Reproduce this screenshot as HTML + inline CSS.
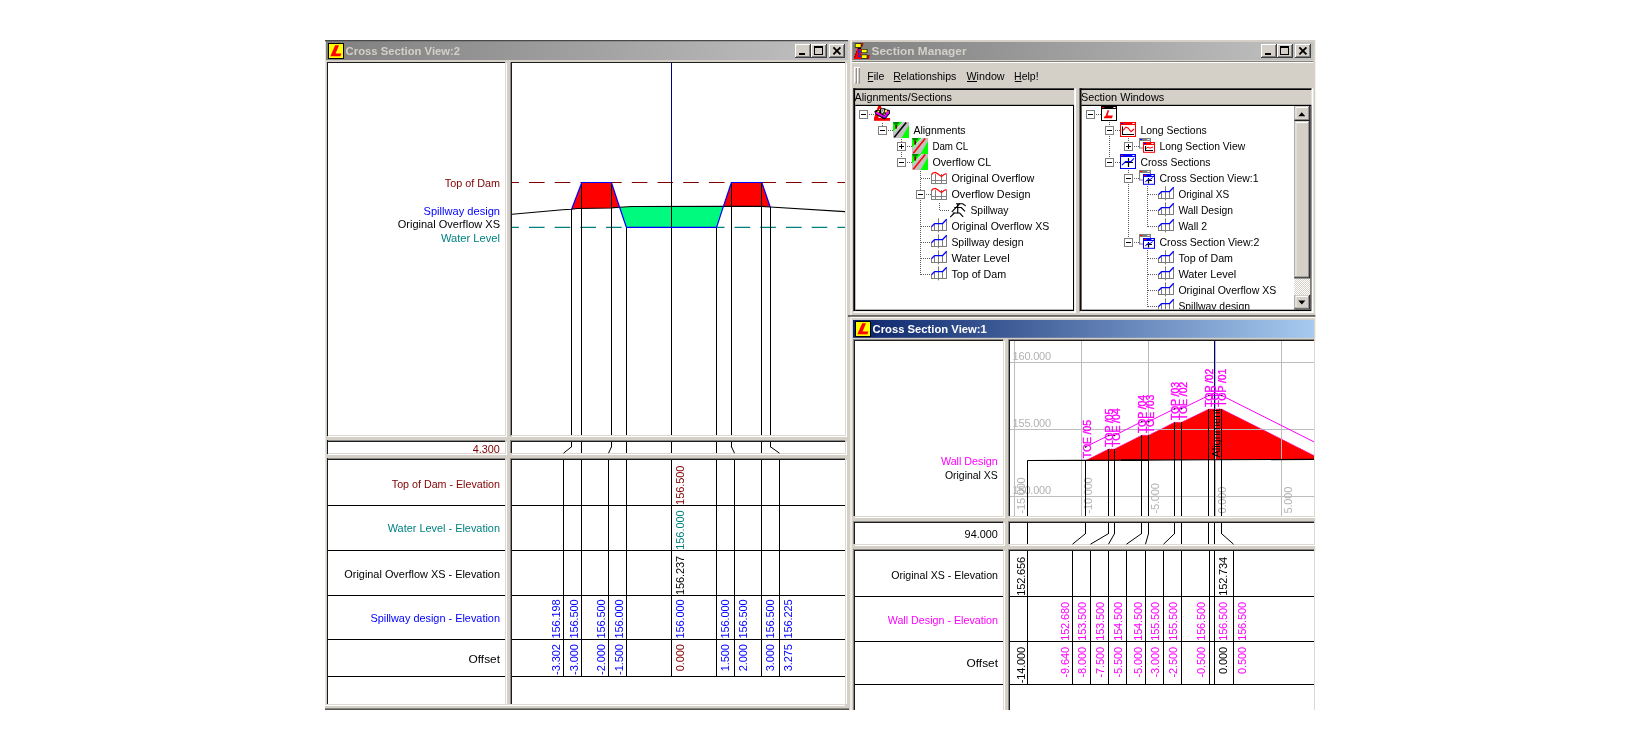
<!DOCTYPE html>
<html><head><meta charset="utf-8"><title>Section Manager</title>
<style>
html,body{margin:0;padding:0;background:#fff;}
body{width:1640px;height:750px;overflow:hidden;font-family:"Liberation Sans",sans-serif;}
svg{display:block;}
svg text{font-family:"Liberation Sans",sans-serif;white-space:pre;}
</style></head>
<body>
<svg width="1640" height="750" viewBox="0 0 1640 750">
<defs>
<linearGradient id="gInact" x1="0" x2="1" y1="0" y2="0"><stop offset="0" stop-color="#808080"/><stop offset="1" stop-color="#c2c2c2"/></linearGradient>
<linearGradient id="gAct" x1="0" x2="1" y1="0" y2="0"><stop offset="0" stop-color="#0a246a"/><stop offset="1" stop-color="#a6caf0"/></linearGradient>
<pattern id="dither" width="2" height="2" patternUnits="userSpaceOnUse"><rect width="2" height="2" fill="#d4d0c8"/><rect width="1" height="1" fill="#fff"/><rect x="1" y="1" width="1" height="1" fill="#fff"/></pattern>
<filter id="soft" x="0" y="0" width="1640" height="750" filterUnits="userSpaceOnUse"><feGaussianBlur stdDeviation="0.3"/></filter>
</defs>
<g filter="url(#soft)">
<rect x="0" y="0" width="1640" height="750" fill="#fff"/>
<rect x="325.00" y="40.00" width="525.00" height="670.00" fill="#d4d0c8" />
<rect x="326.00" y="41.00" width="522.00" height="19.00" fill="url(#gInact)" />
<rect x="325.00" y="40.00" width="523.00" height="1.25" fill="#4a4a4a" />
<rect x="327.00" y="62.00" width="178.00" height="373.00" fill="#1c1c1c" />
<rect x="328.00" y="63.00" width="179.00" height="374.00" fill="#fff" />
<rect x="328.00" y="63.00" width="178.00" height="373.00" fill="#dcd9d2" />
<rect x="328.00" y="63.00" width="177.00" height="372.00" fill="#fff" />
<rect x="511.00" y="62.00" width="334.00" height="373.00" fill="#1c1c1c" />
<rect x="512.00" y="63.00" width="335.00" height="374.00" fill="#fff" />
<rect x="512.00" y="63.00" width="334.00" height="373.00" fill="#dcd9d2" />
<rect x="512.00" y="63.00" width="333.00" height="372.00" fill="#fff" />
<rect x="510.00" y="62.00" width="1.00" height="374.00" fill="#8a8884" />
<rect x="326.00" y="440.00" width="179.00" height="13.00" fill="#8a8884" />
<rect x="327.00" y="441.00" width="178.00" height="12.00" fill="#1c1c1c" />
<rect x="328.00" y="442.00" width="179.00" height="13.00" fill="#fff" />
<rect x="328.00" y="442.00" width="178.00" height="12.00" fill="#dcd9d2" />
<rect x="328.00" y="442.00" width="177.00" height="11.00" fill="#fff" />
<rect x="326.00" y="458.00" width="179.00" height="246.00" fill="#8a8884" />
<rect x="327.00" y="459.00" width="178.00" height="245.00" fill="#1c1c1c" />
<rect x="328.00" y="460.00" width="179.00" height="246.00" fill="#fff" />
<rect x="328.00" y="460.00" width="178.00" height="245.00" fill="#dcd9d2" />
<rect x="328.00" y="460.00" width="177.00" height="244.00" fill="#fff" />
<rect x="510.00" y="440.00" width="335.00" height="13.00" fill="#8a8884" />
<rect x="511.00" y="441.00" width="334.00" height="12.00" fill="#1c1c1c" />
<rect x="512.00" y="442.00" width="335.00" height="13.00" fill="#fff" />
<rect x="512.00" y="442.00" width="334.00" height="12.00" fill="#dcd9d2" />
<rect x="512.00" y="442.00" width="333.00" height="11.00" fill="#fff" />
<rect x="510.00" y="458.00" width="335.00" height="246.00" fill="#8a8884" />
<rect x="511.00" y="459.00" width="334.00" height="245.00" fill="#1c1c1c" />
<rect x="512.00" y="460.00" width="335.00" height="246.00" fill="#fff" />
<rect x="512.00" y="460.00" width="334.00" height="245.00" fill="#dcd9d2" />
<rect x="512.00" y="460.00" width="333.00" height="244.00" fill="#fff" />
<rect x="325.00" y="60.00" width="3.00" height="650.00" fill="#d4d0c8" />
<rect x="327.00" y="62.00" width="1.00" height="642.00" fill="#1c1c1c" />
<rect x="327.00" y="436.00" width="1.00" height="4.00" fill="#d4d0c8" />
<rect x="327.00" y="454.00" width="1.00" height="4.00" fill="#d4d0c8" />
<rect x="325.00" y="42.00" width="1.00" height="668.00" fill="#e4e2dc" />
<rect x="326.00" y="60.00" width="1.00" height="650.00" fill="#d2cfc7" />
<rect x="325.00" y="704.00" width="523.00" height="1.00" fill="#dcd9d2" />
<rect x="325.00" y="705.00" width="523.00" height="1.00" fill="#fff" />
<rect x="325.00" y="706.00" width="524.00" height="2.00" fill="#d4d0c8" />
<rect x="325.00" y="708.00" width="524.00" height="1.00" fill="#8a8884" />
<rect x="325.00" y="709.00" width="524.00" height="1.00" fill="#55524e" />
<rect x="845.00" y="704.00" width="5.00" height="6.00" fill="#d4d0c8" />
<rect x="845.00" y="708.00" width="4.00" height="1.00" fill="#8a8884" />
<rect x="845.00" y="709.00" width="4.00" height="1.00" fill="#55524e" />
<rect x="328.00" y="43.00" width="16.00" height="16.00" fill="#000" />
<rect x="329.00" y="44.00" width="14.00" height="14.00" fill="#ffff00" />
<polygon points="335.20,45.20 339.00,45.20 335.60,53.40 341.40,53.40 340.40,56.20 330.40,56.20" fill="#ff0000" stroke="none" stroke-width="1.0" />
<text x="345.60" y="55.00" font-size="11" fill="#d4d0c8" text-anchor="start" font-weight="700" textLength="114.50" lengthAdjust="spacingAndGlyphs" >Cross Section View:2</text>
<rect x="795.00" y="44.00" width="16.00" height="14.00" fill="#404040" />
<rect x="795.00" y="44.00" width="15.00" height="13.00" fill="#fff" />
<rect x="796.00" y="45.00" width="14.00" height="12.00" fill="#808080" />
<rect x="796.00" y="45.00" width="13.00" height="11.00" fill="#d4d0c8" />
<rect x="799.00" y="53.00" width="6.00" height="2.00" fill="#000" />
<rect x="811.00" y="44.00" width="16.00" height="14.00" fill="#404040" />
<rect x="811.00" y="44.00" width="15.00" height="13.00" fill="#fff" />
<rect x="812.00" y="45.00" width="14.00" height="12.00" fill="#808080" />
<rect x="812.00" y="45.00" width="13.00" height="11.00" fill="#d4d0c8" />
<rect x="814.00" y="46.00" width="9.00" height="9.00" fill="#000" />
<rect x="815.00" y="48.00" width="7.00" height="6.00" fill="#d4d0c8" />
<rect x="829.00" y="44.00" width="16.00" height="14.00" fill="#404040" />
<rect x="829.00" y="44.00" width="15.00" height="13.00" fill="#fff" />
<rect x="830.00" y="45.00" width="14.00" height="12.00" fill="#808080" />
<rect x="830.00" y="45.00" width="13.00" height="11.00" fill="#d4d0c8" />
<line x1="833.40" y1="47.40" x2="840.40" y2="54.40" stroke="#000" stroke-width="1.9" />
<line x1="840.40" y1="47.40" x2="833.40" y2="54.40" stroke="#000" stroke-width="1.9" />
<text x="500.00" y="186.80" font-size="11" fill="#800000" text-anchor="end" font-weight="400" textLength="55.20" lengthAdjust="spacingAndGlyphs" >Top of Dam</text>
<text x="500.00" y="214.50" font-size="11" fill="#0000ff" text-anchor="end" font-weight="400" textLength="76.50" lengthAdjust="spacingAndGlyphs" >Spillway design</text>
<text x="500.00" y="228.30" font-size="11" fill="#000" text-anchor="end" font-weight="400" textLength="102.30" lengthAdjust="spacingAndGlyphs" >Original Overflow XS</text>
<text x="500.00" y="242.40" font-size="11" fill="#008080" text-anchor="end" font-weight="400" textLength="59.10" lengthAdjust="spacingAndGlyphs" >Water Level</text>
<text x="499.80" y="452.80" font-size="11" fill="#800000" text-anchor="end" font-weight="400" textLength="27.10" lengthAdjust="spacingAndGlyphs" >4.300</text>
<text x="500.00" y="487.60" font-size="11" fill="#800000" text-anchor="end" font-weight="400" textLength="108.20" lengthAdjust="spacingAndGlyphs" >Top of Dam - Elevation</text>
<text x="500.00" y="532.40" font-size="11" fill="#008080" text-anchor="end" font-weight="400" textLength="112.30" lengthAdjust="spacingAndGlyphs" >Water Level - Elevation</text>
<text x="500.00" y="578.20" font-size="11" fill="#000" text-anchor="end" font-weight="400" textLength="155.70" lengthAdjust="spacingAndGlyphs" >Original Overflow XS - Elevation</text>
<text x="500.00" y="622.00" font-size="11" fill="#0000ff" text-anchor="end" font-weight="400" textLength="129.60" lengthAdjust="spacingAndGlyphs" >Spillway design - Elevation</text>
<text x="500.00" y="663.00" font-size="11" fill="#000" text-anchor="end" font-weight="400" textLength="31.50" lengthAdjust="spacingAndGlyphs" >Offset</text>
<rect x="328.00" y="505.00" width="177.00" height="1.00" fill="#000" />
<rect x="512.00" y="505.00" width="333.00" height="1.00" fill="#000" />
<rect x="328.00" y="550.00" width="177.00" height="1.00" fill="#000" />
<rect x="512.00" y="550.00" width="333.00" height="1.00" fill="#000" />
<rect x="328.00" y="595.00" width="177.00" height="1.00" fill="#000" />
<rect x="512.00" y="595.00" width="333.00" height="1.00" fill="#000" />
<rect x="328.00" y="639.00" width="177.00" height="1.00" fill="#000" />
<rect x="512.00" y="639.00" width="333.00" height="1.00" fill="#000" />
<rect x="328.00" y="676.00" width="177.00" height="1.00" fill="#000" />
<rect x="512.00" y="676.00" width="333.00" height="1.00" fill="#000" />
<clipPath id="cB"><rect x="512" y="63" width="333" height="372"/></clipPath><g clip-path="url(#cB)">
<line x1="503.30" y1="182.50" x2="846.00" y2="182.50" stroke="#800000" stroke-width="1.1" stroke-dasharray="15.6 10.1"/>
<line x1="503.30" y1="227.40" x2="846.00" y2="227.40" stroke="#008080" stroke-width="1.1" stroke-dasharray="15.6 10.1"/>
<polygon points="619.60,207.20 632.20,206.50 723.40,206.40 716.60,227.40 626.40,227.40" fill="#00fa7d" stroke="none" stroke-width="1.0" />
<polygon points="571.60,209.20 581.80,182.50 611.40,182.50 619.60,207.20 613.60,207.60 611.40,208.00 577.00,208.50" fill="#ff0000" stroke="none" stroke-width="1.0" />
<polygon points="723.40,206.40 731.40,182.50 761.80,182.50 770.20,207.00 761.80,206.40" fill="#ff0000" stroke="none" stroke-width="1.0" />
<polyline points="511.00,214.40 537.40,212.00 562.60,209.70 571.60,209.20 577.00,208.50 611.40,208.00 613.60,207.60 619.60,207.20 632.20,206.50 723.40,206.40 761.80,206.40 770.20,207.00 846.00,211.70" fill="none" stroke="#000" stroke-width="1.1" />
<rect x="671.00" y="63.00" width="1.00" height="119.50" fill="#000080" />
<rect x="671.00" y="182.50" width="1.00" height="252.50" fill="#000" />
<rect x="571.00" y="209.20" width="1.00" height="225.80" fill="#000" />
<rect x="581.00" y="182.50" width="1.00" height="252.50" fill="#000" />
<rect x="611.00" y="182.50" width="1.00" height="252.50" fill="#000" />
<rect x="626.00" y="227.40" width="1.00" height="207.60" fill="#000" />
<rect x="716.00" y="227.40" width="1.00" height="207.60" fill="#000" />
<rect x="731.00" y="182.50" width="1.00" height="252.50" fill="#000" />
<rect x="761.00" y="182.50" width="1.00" height="252.50" fill="#000" />
<rect x="770.00" y="207.00" width="1.00" height="228.00" fill="#000" />
<polyline points="571.60,209.20 581.80,182.50 611.40,182.50 619.60,207.20 626.40,227.40 716.60,227.40 723.40,206.40 731.40,182.50 761.80,182.50 770.20,207.00" fill="none" stroke="#0000ff" stroke-width="1.2" stroke-linejoin="round"/>
</g>
<rect x="571.00" y="442.00" width="1.00" height="5.20" fill="#000" />
<line x1="571.50" y1="446.80" x2="563.50" y2="453.20" stroke="#000" stroke-width="1.0" />
<rect x="581.00" y="442.00" width="1.00" height="11.00" fill="#000" />
<rect x="611.00" y="442.00" width="1.00" height="5.20" fill="#000" />
<line x1="611.50" y1="446.80" x2="608.50" y2="453.20" stroke="#000" stroke-width="1.0" />
<rect x="626.00" y="442.00" width="1.00" height="11.00" fill="#000" />
<rect x="671.00" y="442.00" width="1.00" height="11.00" fill="#000" />
<rect x="716.00" y="442.00" width="1.00" height="11.00" fill="#000" />
<rect x="731.00" y="442.00" width="1.00" height="5.20" fill="#000" />
<line x1="731.50" y1="446.80" x2="734.50" y2="453.20" stroke="#000" stroke-width="1.0" />
<rect x="761.00" y="442.00" width="1.00" height="11.00" fill="#000" />
<rect x="770.00" y="442.00" width="1.00" height="5.20" fill="#000" />
<line x1="770.50" y1="446.80" x2="779.50" y2="453.20" stroke="#000" stroke-width="1.0" />
<rect x="563.00" y="460.00" width="1.00" height="217.00" fill="#000" />
<rect x="581.00" y="460.00" width="1.00" height="217.00" fill="#000" />
<rect x="608.00" y="460.00" width="1.00" height="217.00" fill="#000" />
<rect x="626.00" y="460.00" width="1.00" height="217.00" fill="#000" />
<rect x="671.00" y="460.00" width="1.00" height="217.00" fill="#000" />
<rect x="716.00" y="460.00" width="1.00" height="217.00" fill="#000" />
<rect x="734.00" y="460.00" width="1.00" height="217.00" fill="#000" />
<rect x="761.00" y="460.00" width="1.00" height="217.00" fill="#000" />
<rect x="779.00" y="460.00" width="1.00" height="217.00" fill="#000" />
<text transform="translate(683.80,465.70) rotate(-90)" font-size="11" fill="#800000" text-anchor="end" letter-spacing="-0.08">156.500</text>
<text transform="translate(683.80,510.50) rotate(-90)" font-size="11" fill="#008080" text-anchor="end" letter-spacing="-0.08">156.000</text>
<text transform="translate(683.80,555.90) rotate(-90)" font-size="11" fill="#000" text-anchor="end" letter-spacing="-0.08">156.237</text>
<text transform="translate(559.80,599.40) rotate(-90)" font-size="11" fill="#0000ff" text-anchor="end" letter-spacing="-0.08">156.198</text>
<text transform="translate(559.80,644.20) rotate(-90)" font-size="11" fill="#0000ff" text-anchor="end" letter-spacing="-0.08">-3.302</text>
<text transform="translate(577.50,599.40) rotate(-90)" font-size="11" fill="#0000ff" text-anchor="end" letter-spacing="-0.08">156.500</text>
<text transform="translate(577.50,644.20) rotate(-90)" font-size="11" fill="#0000ff" text-anchor="end" letter-spacing="-0.08">-3.000</text>
<text transform="translate(604.50,599.40) rotate(-90)" font-size="11" fill="#0000ff" text-anchor="end" letter-spacing="-0.08">156.500</text>
<text transform="translate(604.50,644.20) rotate(-90)" font-size="11" fill="#0000ff" text-anchor="end" letter-spacing="-0.08">-2.000</text>
<text transform="translate(622.50,599.40) rotate(-90)" font-size="11" fill="#0000ff" text-anchor="end" letter-spacing="-0.08">156.000</text>
<text transform="translate(622.50,644.20) rotate(-90)" font-size="11" fill="#0000ff" text-anchor="end" letter-spacing="-0.08">-1.500</text>
<text transform="translate(683.80,599.40) rotate(-90)" font-size="11" fill="#0000ff" text-anchor="end" letter-spacing="-0.08">156.000</text>
<text transform="translate(683.80,644.20) rotate(-90)" font-size="11" fill="#800000" text-anchor="end" letter-spacing="-0.08">0.000</text>
<text transform="translate(728.70,599.40) rotate(-90)" font-size="11" fill="#0000ff" text-anchor="end" letter-spacing="-0.08">156.000</text>
<text transform="translate(728.70,644.20) rotate(-90)" font-size="11" fill="#0000ff" text-anchor="end" letter-spacing="-0.08">1.500</text>
<text transform="translate(746.60,599.40) rotate(-90)" font-size="11" fill="#0000ff" text-anchor="end" letter-spacing="-0.08">156.500</text>
<text transform="translate(746.60,644.20) rotate(-90)" font-size="11" fill="#0000ff" text-anchor="end" letter-spacing="-0.08">2.000</text>
<text transform="translate(773.80,599.40) rotate(-90)" font-size="11" fill="#0000ff" text-anchor="end" letter-spacing="-0.08">156.500</text>
<text transform="translate(773.80,644.20) rotate(-90)" font-size="11" fill="#0000ff" text-anchor="end" letter-spacing="-0.08">3.000</text>
<text transform="translate(791.60,599.40) rotate(-90)" font-size="11" fill="#0000ff" text-anchor="end" letter-spacing="-0.08">156.225</text>
<text transform="translate(791.60,644.20) rotate(-90)" font-size="11" fill="#0000ff" text-anchor="end" letter-spacing="-0.08">3.275</text>
<rect x="850.00" y="40.00" width="465.30" height="277.00" fill="#d4d0c8" />
<rect x="850.00" y="40.00" width="2.00" height="277.00" fill="#eeece8" />
<rect x="848.00" y="315.20" width="467.30" height="1.60" fill="#4a4846" />
<rect x="852.30" y="42.00" width="461.00" height="18.00" fill="url(#gInact)" />
<rect x="852.30" y="61.00" width="461.00" height="1.00" fill="#85837e" />
<rect x="852.30" y="62.00" width="461.00" height="1.00" fill="#fff" />
<rect x="1261.00" y="44.00" width="16.00" height="14.00" fill="#404040" />
<rect x="1261.00" y="44.00" width="15.00" height="13.00" fill="#fff" />
<rect x="1262.00" y="45.00" width="14.00" height="12.00" fill="#808080" />
<rect x="1262.00" y="45.00" width="13.00" height="11.00" fill="#d4d0c8" />
<rect x="1265.00" y="53.00" width="6.00" height="2.00" fill="#000" />
<rect x="1277.00" y="44.00" width="16.00" height="14.00" fill="#404040" />
<rect x="1277.00" y="44.00" width="15.00" height="13.00" fill="#fff" />
<rect x="1278.00" y="45.00" width="14.00" height="12.00" fill="#808080" />
<rect x="1278.00" y="45.00" width="13.00" height="11.00" fill="#d4d0c8" />
<rect x="1280.00" y="46.00" width="9.00" height="9.00" fill="#000" />
<rect x="1281.00" y="48.00" width="7.00" height="6.00" fill="#d4d0c8" />
<rect x="1295.00" y="44.00" width="16.00" height="14.00" fill="#404040" />
<rect x="1295.00" y="44.00" width="15.00" height="13.00" fill="#fff" />
<rect x="1296.00" y="45.00" width="14.00" height="12.00" fill="#808080" />
<rect x="1296.00" y="45.00" width="13.00" height="11.00" fill="#d4d0c8" />
<line x1="1299.40" y1="47.40" x2="1306.40" y2="54.40" stroke="#000" stroke-width="1.9" />
<line x1="1306.40" y1="47.40" x2="1299.40" y2="54.40" stroke="#000" stroke-width="1.9" />
<text x="871.60" y="54.80" font-size="11" fill="#d4d0c8" text-anchor="start" font-weight="700" textLength="95.00" lengthAdjust="spacingAndGlyphs" >Section Manager</text>
<rect x="854.00" y="67.00" width="3.00" height="16.50" fill="#fff" />
<rect x="855.00" y="68.00" width="2.00" height="15.50" fill="#808080" />
<rect x="855.00" y="68.00" width="1.20" height="14.70" fill="#d4d0c8" />
<rect x="857.00" y="67.00" width="3.00" height="16.50" fill="#fff" />
<rect x="858.00" y="68.00" width="2.00" height="15.50" fill="#808080" />
<rect x="858.00" y="68.00" width="1.20" height="14.70" fill="#d4d0c8" />
<text x="867.20" y="79.80" font-size="11" fill="#000" text-anchor="start" font-weight="400" textLength="17.10" lengthAdjust="spacingAndGlyphs" >File</text>
<rect x="867.80" y="81.00" width="5.40" height="1.00" fill="#000" />
<text x="893.20" y="79.80" font-size="11" fill="#000" text-anchor="start" font-weight="400" textLength="63.10" lengthAdjust="spacingAndGlyphs" >Relationships</text>
<rect x="893.80" y="81.00" width="7.00" height="1.00" fill="#000" />
<text x="966.50" y="79.80" font-size="11" fill="#000" text-anchor="start" font-weight="400" textLength="38.10" lengthAdjust="spacingAndGlyphs" >Window</text>
<rect x="967.00" y="81.00" width="10.00" height="1.00" fill="#000" />
<text x="1014.10" y="79.80" font-size="11" fill="#000" text-anchor="start" font-weight="400" textLength="24.50" lengthAdjust="spacingAndGlyphs" >Help!</text>
<rect x="1014.80" y="81.00" width="6.80" height="1.00" fill="#000" />
<rect x="853.30" y="88.40" width="220.90" height="1.60" fill="#000" />
<rect x="853.30" y="88.40" width="220.90" height="0.50" fill="#444" />
<rect x="853.30" y="88.40" width="2.00" height="223.00" fill="#000" />
<rect x="853.30" y="88.40" width="0.40" height="223.00" fill="#444" />
<rect x="855.30" y="90.00" width="218.90" height="15.00" fill="#d4d0c8" />
<rect x="855.30" y="104.80" width="218.90" height="206.40" fill="#000" />
<rect x="855.30" y="106.00" width="217.70" height="203.70" fill="#fff" />
<rect x="1074.20" y="88.40" width="1.80" height="224.40" fill="#fff" />
<rect x="853.30" y="311.20" width="222.70" height="1.60" fill="#fff" />
<text x="854.50" y="100.80" font-size="11" fill="#000" text-anchor="start" font-weight="400" textLength="97.50" lengthAdjust="spacingAndGlyphs" >Alignments/Sections</text>
<rect x="1079.70" y="88.40" width="231.90" height="1.60" fill="#000" />
<rect x="1079.70" y="88.40" width="231.90" height="0.50" fill="#444" />
<rect x="1079.70" y="88.40" width="2.00" height="223.00" fill="#000" />
<rect x="1079.70" y="88.40" width="0.40" height="223.00" fill="#444" />
<rect x="1081.70" y="90.00" width="229.90" height="15.00" fill="#d4d0c8" />
<rect x="1081.70" y="104.80" width="229.90" height="206.40" fill="#000" />
<rect x="1081.70" y="106.00" width="228.60" height="203.70" fill="#fff" />
<rect x="1311.60" y="88.40" width="1.80" height="224.40" fill="#fff" />
<rect x="1079.70" y="311.20" width="233.70" height="1.60" fill="#fff" />
<text x="1080.90" y="100.80" font-size="11" fill="#000" text-anchor="start" font-weight="400" textLength="83.30" lengthAdjust="spacingAndGlyphs" >Section Windows</text>
<rect x="850.00" y="317.00" width="465.50" height="393.00" fill="#d4d0c8" />
<rect x="850.00" y="316.80" width="465.30" height="1.40" fill="#f8f7f4" />
<rect x="853.00" y="320.00" width="461.00" height="17.80" fill="url(#gAct)" />
<rect x="855.00" y="321.00" width="16.00" height="16.00" fill="#000" />
<rect x="856.00" y="322.00" width="14.00" height="14.00" fill="#ffff00" />
<polygon points="862.20,323.20 866.00,323.20 862.60,331.40 868.40,331.40 867.40,334.20 857.40,334.20" fill="#ff0000" stroke="none" stroke-width="1.0" />
<text x="872.60" y="332.80" font-size="11" fill="#fff" text-anchor="start" font-weight="700" textLength="114.20" lengthAdjust="spacingAndGlyphs" >Cross Section View:1</text>
<rect x="853.00" y="339.00" width="150.00" height="177.00" fill="#8a8884" />
<rect x="854.00" y="340.00" width="149.00" height="176.00" fill="#1c1c1c" />
<rect x="855.00" y="341.00" width="150.00" height="177.00" fill="#fff" />
<rect x="855.00" y="341.00" width="149.00" height="176.00" fill="#dcd9d2" />
<rect x="855.00" y="341.00" width="148.00" height="175.00" fill="#fff" />
<rect x="853.00" y="521.00" width="150.00" height="23.00" fill="#8a8884" />
<rect x="854.00" y="522.00" width="149.00" height="22.00" fill="#1c1c1c" />
<rect x="855.00" y="523.00" width="150.00" height="23.00" fill="#fff" />
<rect x="855.00" y="523.00" width="149.00" height="22.00" fill="#dcd9d2" />
<rect x="855.00" y="523.00" width="148.00" height="21.00" fill="#fff" />
<rect x="853.00" y="549.00" width="150.00" height="161.00" fill="#8a8884" />
<rect x="854.00" y="550.00" width="149.00" height="160.00" fill="#1c1c1c" />
<rect x="855.00" y="551.00" width="150.00" height="159.00" fill="#fff" />
<rect x="855.00" y="551.00" width="149.00" height="159.00" fill="#dcd9d2" />
<rect x="855.00" y="551.00" width="148.00" height="159.00" fill="#fff" />
<rect x="1008.00" y="339.00" width="306.00" height="177.00" fill="#8a8884" />
<rect x="1009.00" y="340.00" width="305.00" height="176.00" fill="#1c1c1c" />
<rect x="1010.00" y="341.00" width="306.00" height="177.00" fill="#fff" />
<rect x="1010.00" y="341.00" width="305.00" height="176.00" fill="#dcd9d2" />
<rect x="1010.00" y="341.00" width="304.00" height="175.00" fill="#fff" />
<rect x="1008.00" y="521.00" width="306.00" height="23.00" fill="#8a8884" />
<rect x="1009.00" y="522.00" width="305.00" height="22.00" fill="#1c1c1c" />
<rect x="1010.00" y="523.00" width="306.00" height="23.00" fill="#fff" />
<rect x="1010.00" y="523.00" width="305.00" height="22.00" fill="#dcd9d2" />
<rect x="1010.00" y="523.00" width="304.00" height="21.00" fill="#fff" />
<rect x="1008.00" y="549.00" width="306.00" height="161.00" fill="#8a8884" />
<rect x="1009.00" y="550.00" width="305.00" height="160.00" fill="#1c1c1c" />
<rect x="1010.00" y="551.00" width="306.00" height="159.00" fill="#fff" />
<rect x="1010.00" y="551.00" width="305.00" height="159.00" fill="#dcd9d2" />
<rect x="1010.00" y="551.00" width="304.00" height="159.00" fill="#fff" />
<rect x="850.00" y="338.00" width="3.00" height="372.00" fill="#d4d0c8" />
<rect x="850.00" y="317.00" width="2.00" height="393.00" fill="#eeece8" />
<rect x="1315.50" y="317.00" width="10.00" height="393.00" fill="#fff" />
<text x="997.80" y="464.80" font-size="11" fill="#ff00ff" text-anchor="end" font-weight="400" textLength="56.90" lengthAdjust="spacingAndGlyphs" >Wall Design</text>
<text x="997.80" y="478.70" font-size="11" fill="#000" text-anchor="end" font-weight="400" textLength="52.90" lengthAdjust="spacingAndGlyphs" >Original XS</text>
<text x="997.80" y="537.90" font-size="11" fill="#000" text-anchor="end" font-weight="400" textLength="33.20" lengthAdjust="spacingAndGlyphs" >94.000</text>
<text x="998.00" y="579.00" font-size="11" fill="#000" text-anchor="end" font-weight="400" textLength="106.80" lengthAdjust="spacingAndGlyphs" >Original XS - Elevation</text>
<text x="998.00" y="623.90" font-size="11" fill="#ff00ff" text-anchor="end" font-weight="400" textLength="110.30" lengthAdjust="spacingAndGlyphs" >Wall Design - Elevation</text>
<text x="998.00" y="666.80" font-size="11" fill="#000" text-anchor="end" font-weight="400" textLength="31.50" lengthAdjust="spacingAndGlyphs" >Offset</text>
<rect x="855.00" y="596.00" width="148.00" height="1.00" fill="#000" />
<rect x="1010.00" y="596.00" width="304.00" height="1.00" fill="#000" />
<rect x="855.00" y="641.00" width="148.00" height="1.00" fill="#000" />
<rect x="1010.00" y="641.00" width="304.00" height="1.00" fill="#000" />
<rect x="855.00" y="684.00" width="148.00" height="1.00" fill="#000" />
<rect x="1010.00" y="684.00" width="304.00" height="1.00" fill="#000" />
<clipPath id="cB3"><rect x="1010" y="341" width="304" height="175"/></clipPath><g clip-path="url(#cB3)">
<rect x="1014.00" y="340.00" width="1.00" height="176.00" fill="#bdbdbd" />
<rect x="1081.00" y="340.00" width="1.00" height="176.00" fill="#bdbdbd" />
<rect x="1148.00" y="340.00" width="1.00" height="176.00" fill="#bdbdbd" />
<rect x="1215.00" y="340.00" width="1.00" height="176.00" fill="#bdbdbd" />
<rect x="1281.00" y="340.00" width="1.00" height="176.00" fill="#bdbdbd" />
<rect x="1010.00" y="362.00" width="304.00" height="1.00" fill="#bdbdbd" />
<rect x="1010.00" y="429.00" width="304.00" height="1.00" fill="#bdbdbd" />
<rect x="1010.00" y="496.00" width="304.00" height="1.00" fill="#bdbdbd" />
<text x="1012.60" y="359.50" font-size="11" fill="#b2b2b2" text-anchor="start" font-weight="400" letter-spacing="-0.2">160.000</text>
<text x="1012.60" y="426.50" font-size="11" fill="#b2b2b2" text-anchor="start" font-weight="400" letter-spacing="-0.2">155.000</text>
<text x="1012.60" y="493.50" font-size="11" fill="#b2b2b2" text-anchor="start" font-weight="400" letter-spacing="-0.2">150.000</text>
<text transform="translate(1025.10,513.40) rotate(-90)" font-size="11" fill="#b2b2b2" text-anchor="start" letter-spacing="-0.2">-15.000</text>
<text transform="translate(1092.10,513.40) rotate(-90)" font-size="11" fill="#b2b2b2" text-anchor="start" letter-spacing="-0.2">-10.000</text>
<text transform="translate(1159.20,513.40) rotate(-90)" font-size="11" fill="#b2b2b2" text-anchor="start" letter-spacing="-0.2">-5.000</text>
<text transform="translate(1225.80,513.40) rotate(-90)" font-size="11" fill="#b2b2b2" text-anchor="start" letter-spacing="-0.2">0.000</text>
<text transform="translate(1292.30,513.40) rotate(-90)" font-size="11" fill="#b2b2b2" text-anchor="start" letter-spacing="-0.2">5.000</text>
<polygon points="1085.60,460.40 1108.60,449.00 1114.40,449.00 1141.70,435.20 1148.60,435.20 1174.50,422.30 1181.40,422.30 1208.70,409.00 1221.70,409.00 1315.00,455.90 1315.00,459.40 1215.00,459.80" fill="#ff0000" stroke="none" stroke-width="1.0" />
<rect x="1014.00" y="340.00" width="1.00" height="176.00" fill="#bdbdbd" />
<rect x="1081.00" y="340.00" width="1.00" height="176.00" fill="#bdbdbd" />
<rect x="1148.00" y="340.00" width="1.00" height="176.00" fill="#bdbdbd" />
<rect x="1215.00" y="340.00" width="1.00" height="176.00" fill="#bdbdbd" />
<rect x="1281.00" y="340.00" width="1.00" height="176.00" fill="#bdbdbd" />
<rect x="1010.00" y="362.00" width="304.00" height="1.00" fill="#bdbdbd" />
<rect x="1010.00" y="429.00" width="304.00" height="1.00" fill="#bdbdbd" />
<rect x="1010.00" y="496.00" width="304.00" height="1.00" fill="#bdbdbd" />
<polyline points="1085.60,460.40 1108.60,449.00 1114.40,449.00 1141.70,435.20 1148.60,435.20 1174.50,422.30 1181.40,422.30 1208.70,409.00 1221.70,409.00 1315.00,455.90" fill="none" stroke="#ff00ff" stroke-width="0.8" stroke-dasharray="1 1"/>
<polyline points="1027.40,460.50 1085.60,460.40 1215.00,459.80 1315.00,459.40" fill="none" stroke="#000" stroke-width="1.1" />
<rect x="1121.00" y="459.40" width="28.00" height="1.60" fill="#000" />
<polyline points="1085.60,446.90 1108.60,435.50 1114.40,435.50 1141.70,421.70 1148.60,421.70 1174.50,408.80 1181.40,408.80 1208.70,395.50 1221.70,395.50 1315.00,442.40" fill="none" stroke="#ff00ff" stroke-width="1.0" />
<rect x="1107.90" y="434.80" width="1.40" height="1.40" fill="#000" />
<rect x="1113.70" y="434.80" width="1.40" height="1.40" fill="#000" />
<rect x="1141.00" y="421.00" width="1.40" height="1.40" fill="#000" />
<rect x="1147.90" y="421.00" width="1.40" height="1.40" fill="#000" />
<rect x="1173.80" y="408.10" width="1.40" height="1.40" fill="#000" />
<rect x="1180.70" y="408.10" width="1.40" height="1.40" fill="#000" />
<rect x="1208.00" y="394.80" width="1.40" height="1.40" fill="#000" />
<rect x="1221.00" y="394.80" width="1.40" height="1.40" fill="#000" />
<rect x="1084.90" y="446.30" width="1.40" height="1.40" fill="#000" />
<rect x="1027.00" y="460.50" width="1.00" height="55.50" fill="#000" />
<rect x="1085.00" y="460.40" width="1.00" height="55.60" fill="#000" />
<rect x="1108.00" y="449.00" width="1.00" height="67.00" fill="#000" />
<rect x="1114.00" y="449.00" width="1.00" height="67.00" fill="#000" />
<rect x="1141.00" y="435.20" width="1.00" height="80.80" fill="#000" />
<rect x="1148.00" y="435.20" width="1.00" height="80.80" fill="#000" />
<rect x="1174.00" y="422.30" width="1.00" height="93.70" fill="#000" />
<rect x="1181.00" y="422.30" width="1.00" height="93.70" fill="#000" />
<rect x="1208.00" y="409.00" width="1.00" height="107.00" fill="#000" />
<rect x="1221.00" y="409.00" width="1.00" height="107.00" fill="#000" />
<rect x="1214.00" y="340.00" width="1.00" height="68.60" fill="#000080" />
<rect x="1214.00" y="408.60" width="1.00" height="107.40" fill="#000" />
<text transform="translate(1090.50,458.20) rotate(-90)" font-size="10.5" fill="#ff00ff" text-anchor="start" letter-spacing="-0.1" stroke="#ff00ff" stroke-width="0.35">TOE /05</text>
<text transform="translate(1112.60,446.80) rotate(-90)" font-size="10.5" fill="#ff00ff" text-anchor="start" letter-spacing="-0.1" stroke="#ff00ff" stroke-width="0.35">TOP /05</text>
<text transform="translate(1119.90,446.80) rotate(-90)" font-size="10.5" fill="#ff00ff" text-anchor="start" letter-spacing="-0.1" stroke="#ff00ff" stroke-width="0.35">TOE /04</text>
<text transform="translate(1145.70,433.00) rotate(-90)" font-size="10.5" fill="#ff00ff" text-anchor="start" letter-spacing="-0.1" stroke="#ff00ff" stroke-width="0.35">TOP /04</text>
<text transform="translate(1154.10,433.00) rotate(-90)" font-size="10.5" fill="#ff00ff" text-anchor="start" letter-spacing="-0.1" stroke="#ff00ff" stroke-width="0.35">TOE /03</text>
<text transform="translate(1178.50,420.10) rotate(-90)" font-size="10.5" fill="#ff00ff" text-anchor="start" letter-spacing="-0.1" stroke="#ff00ff" stroke-width="0.35">TOP /03</text>
<text transform="translate(1186.90,420.10) rotate(-90)" font-size="10.5" fill="#ff00ff" text-anchor="start" letter-spacing="-0.1" stroke="#ff00ff" stroke-width="0.35">TOE /02</text>
<text transform="translate(1213.30,406.80) rotate(-90)" font-size="10.5" fill="#ff00ff" text-anchor="start" letter-spacing="-0.1" stroke="#ff00ff" stroke-width="0.35">TOP /02</text>
<text transform="translate(1226.10,406.80) rotate(-90)" font-size="10.5" fill="#ff00ff" text-anchor="start" letter-spacing="-0.1" stroke="#ff00ff" stroke-width="0.35">TOP /01</text>
<text transform="translate(1219.20,406.80) rotate(-90)" font-size="10.5" fill="#ff00ff" text-anchor="start" stroke="#ff00ff" stroke-width="0.35">TOP</text>
<text transform="translate(1220.20,457.60) rotate(-90)" font-size="11" fill="#000" text-anchor="start" >Alignment</text>
</g>
<rect x="1027.00" y="523.00" width="1.00" height="21.00" fill="#000" />
<rect x="1085.00" y="523.00" width="1.00" height="11.00" fill="#000" />
<line x1="1085.50" y1="533.60" x2="1072.50" y2="544.20" stroke="#000" stroke-width="1.0" />
<rect x="1108.00" y="523.00" width="1.00" height="11.00" fill="#000" />
<line x1="1108.50" y1="533.60" x2="1090.50" y2="544.20" stroke="#000" stroke-width="1.0" />
<rect x="1114.00" y="523.00" width="1.00" height="11.00" fill="#000" />
<line x1="1114.50" y1="533.60" x2="1108.50" y2="544.20" stroke="#000" stroke-width="1.0" />
<rect x="1141.00" y="523.00" width="1.00" height="11.00" fill="#000" />
<line x1="1141.50" y1="533.60" x2="1126.50" y2="544.20" stroke="#000" stroke-width="1.0" />
<rect x="1148.00" y="523.00" width="1.00" height="11.00" fill="#000" />
<line x1="1148.50" y1="533.60" x2="1145.50" y2="544.20" stroke="#000" stroke-width="1.0" />
<rect x="1174.00" y="523.00" width="1.00" height="11.00" fill="#000" />
<line x1="1174.50" y1="533.60" x2="1163.50" y2="544.20" stroke="#000" stroke-width="1.0" />
<rect x="1181.00" y="523.00" width="1.00" height="21.00" fill="#000" />
<rect x="1208.00" y="523.00" width="1.00" height="21.00" fill="#000" />
<rect x="1214.00" y="523.00" width="1.00" height="21.00" fill="#000" />
<rect x="1221.00" y="523.00" width="1.00" height="11.00" fill="#000" />
<line x1="1221.50" y1="533.60" x2="1233.50" y2="544.20" stroke="#000" stroke-width="1.0" />
<rect x="1027.00" y="551.00" width="1.00" height="134.00" fill="#000" />
<rect x="1072.00" y="551.00" width="1.00" height="134.00" fill="#000" />
<rect x="1090.00" y="551.00" width="1.00" height="134.00" fill="#000" />
<rect x="1108.00" y="551.00" width="1.00" height="134.00" fill="#000" />
<rect x="1126.00" y="551.00" width="1.00" height="134.00" fill="#000" />
<rect x="1145.00" y="551.00" width="1.00" height="134.00" fill="#000" />
<rect x="1163.00" y="551.00" width="1.00" height="134.00" fill="#000" />
<rect x="1181.00" y="551.00" width="1.00" height="134.00" fill="#000" />
<rect x="1209.00" y="551.00" width="1.00" height="134.00" fill="#000" />
<rect x="1214.00" y="551.00" width="1.00" height="134.00" fill="#000" />
<rect x="1233.00" y="551.00" width="1.00" height="134.00" fill="#000" />
<text transform="translate(1025.10,557.00) rotate(-90)" font-size="11" fill="#000" text-anchor="end" letter-spacing="-0.15">152.656</text>
<text transform="translate(1025.10,647.00) rotate(-90)" font-size="11" fill="#000" text-anchor="end" letter-spacing="-0.15">-14.000</text>
<text transform="translate(1226.90,557.00) rotate(-90)" font-size="11" fill="#000" text-anchor="end" letter-spacing="-0.15">152.734</text>
<text transform="translate(1068.50,602.10) rotate(-90)" font-size="11" fill="#ff00ff" text-anchor="end" letter-spacing="-0.15">152.680</text>
<text transform="translate(1068.50,647.10) rotate(-90)" font-size="11" fill="#ff00ff" text-anchor="end" letter-spacing="-0.15">-9.640</text>
<text transform="translate(1086.30,602.10) rotate(-90)" font-size="11" fill="#ff00ff" text-anchor="end" letter-spacing="-0.15">153.500</text>
<text transform="translate(1086.30,647.10) rotate(-90)" font-size="11" fill="#ff00ff" text-anchor="end" letter-spacing="-0.15">-8.000</text>
<text transform="translate(1104.40,602.10) rotate(-90)" font-size="11" fill="#ff00ff" text-anchor="end" letter-spacing="-0.15">153.500</text>
<text transform="translate(1104.40,647.10) rotate(-90)" font-size="11" fill="#ff00ff" text-anchor="end" letter-spacing="-0.15">-7.500</text>
<text transform="translate(1122.30,602.10) rotate(-90)" font-size="11" fill="#ff00ff" text-anchor="end" letter-spacing="-0.15">154.500</text>
<text transform="translate(1122.30,647.10) rotate(-90)" font-size="11" fill="#ff00ff" text-anchor="end" letter-spacing="-0.15">-5.500</text>
<text transform="translate(1141.50,602.10) rotate(-90)" font-size="11" fill="#ff00ff" text-anchor="end" letter-spacing="-0.15">154.500</text>
<text transform="translate(1141.50,647.10) rotate(-90)" font-size="11" fill="#ff00ff" text-anchor="end" letter-spacing="-0.15">-5.000</text>
<text transform="translate(1159.20,602.10) rotate(-90)" font-size="11" fill="#ff00ff" text-anchor="end" letter-spacing="-0.15">155.500</text>
<text transform="translate(1159.20,647.10) rotate(-90)" font-size="11" fill="#ff00ff" text-anchor="end" letter-spacing="-0.15">-3.000</text>
<text transform="translate(1177.30,602.10) rotate(-90)" font-size="11" fill="#ff00ff" text-anchor="end" letter-spacing="-0.15">155.500</text>
<text transform="translate(1177.30,647.10) rotate(-90)" font-size="11" fill="#ff00ff" text-anchor="end" letter-spacing="-0.15">-2.500</text>
<text transform="translate(1204.90,602.10) rotate(-90)" font-size="11" fill="#ff00ff" text-anchor="end" letter-spacing="-0.15">156.500</text>
<text transform="translate(1204.90,647.10) rotate(-90)" font-size="11" fill="#ff00ff" text-anchor="end" letter-spacing="-0.15">-0.500</text>
<text transform="translate(1226.90,602.10) rotate(-90)" font-size="11" fill="#ff00ff" text-anchor="end" letter-spacing="-0.15">156.500</text>
<text transform="translate(1226.90,647.10) rotate(-90)" font-size="11" fill="#000" text-anchor="end" letter-spacing="-0.15">0.000</text>
<text transform="translate(1245.80,602.10) rotate(-90)" font-size="11" fill="#ff00ff" text-anchor="end" letter-spacing="-0.15">156.500</text>
<text transform="translate(1245.80,647.10) rotate(-90)" font-size="11" fill="#ff00ff" text-anchor="end" letter-spacing="-0.15">0.500</text>
<clipPath id="cT1"><rect x="855" y="106" width="218.4" height="203.6"/></clipPath><g clip-path="url(#cT1)">
<line x1="882.5" y1="123.0" x2="882.5" y2="126.0" stroke="#5a5a5a" stroke-width="1" stroke-dasharray="1 1"/>
<line x1="901.5" y1="139.0" x2="901.5" y2="142.0" stroke="#5a5a5a" stroke-width="1" stroke-dasharray="1 1"/>
<line x1="901.5" y1="152.0" x2="901.5" y2="158.0" stroke="#5a5a5a" stroke-width="1" stroke-dasharray="1 1"/>
<line x1="920.5" y1="171.0" x2="920.5" y2="190.0" stroke="#5a5a5a" stroke-width="1" stroke-dasharray="1 1"/>
<line x1="920.5" y1="200.0" x2="920.5" y2="275.0" stroke="#5a5a5a" stroke-width="1" stroke-dasharray="1 1"/>
<line x1="939.5" y1="203.0" x2="939.5" y2="211.0" stroke="#5a5a5a" stroke-width="1" stroke-dasharray="1 1"/>
<line x1="921.0" y1="178.5" x2="930.0" y2="178.5" stroke="#5a5a5a" stroke-width="1" stroke-dasharray="1 1"/>
<line x1="921.0" y1="226.5" x2="930.0" y2="226.5" stroke="#5a5a5a" stroke-width="1" stroke-dasharray="1 1"/>
<line x1="921.0" y1="242.5" x2="930.0" y2="242.5" stroke="#5a5a5a" stroke-width="1" stroke-dasharray="1 1"/>
<line x1="921.0" y1="258.5" x2="930.0" y2="258.5" stroke="#5a5a5a" stroke-width="1" stroke-dasharray="1 1"/>
<line x1="921.0" y1="274.5" x2="930.0" y2="274.5" stroke="#5a5a5a" stroke-width="1" stroke-dasharray="1 1"/>
<line x1="940.0" y1="210.5" x2="949.0" y2="210.5" stroke="#5a5a5a" stroke-width="1" stroke-dasharray="1 1"/>
<rect x="859.00" y="110.00" width="9.00" height="9.00" fill="#808080" />
<rect x="860.00" y="111.00" width="7.00" height="7.00" fill="#fff" />
<rect x="861.00" y="114.00" width="5.00" height="1.00" fill="#000" />
<line x1="869.0" y1="114.5" x2="874.5" y2="114.5" stroke="#5a5a5a" stroke-width="1" stroke-dasharray="1 1"/>
<polygon points="878.00,106.00 881.00,106.00 881.40,107.50 881.40,109.00 877.20,109.00 877.20,107.50 878.00,107.50" fill="#ff0000" stroke="none" stroke-width="1.0" />
<polygon points="877.20,109.00 879.00,109.00 878.50,118.00 874.00,118.00" fill="#ff0000" stroke="none" stroke-width="1.0" />
<rect x="874.00" y="118.00" width="16.00" height="2.80" fill="#ff0000" />
<polygon points="874.30,111.50 876.00,110.00 879.50,110.20 881.00,108.30 885.00,108.20 886.00,109.20 889.80,110.00 890.00,113.50 887.50,116.50 885.00,119.60 883.50,119.00 875.50,114.50" fill="#000" stroke="none" stroke-width="1.0" />
<polygon points="875.60,112.20 877.00,111.70 884.20,116.00 886.50,112.50 886.80,110.70 889.00,110.70 889.00,113.30 885.00,118.30 875.80,113.60" fill="#ff00ff" stroke="none" stroke-width="1.0" />
<polygon points="881.00,109.20 884.00,109.20 884.40,113.00 881.40,113.40" fill="#d8d8d8" stroke="none" stroke-width="1.0" />
<rect x="882.20" y="110.40" width="0.90" height="0.90" fill="#000" />
<rect x="883.20" y="112.20" width="0.90" height="0.90" fill="#000" />
<rect x="877.40" y="110.80" width="1.80" height="1.60" fill="#ffff00" />
<rect x="885.00" y="109.80" width="1.80" height="2.60" fill="#ffff00" />
<rect x="883.60" y="113.60" width="1.20" height="1.20" fill="#ffff00" />
<rect x="882.00" y="116.20" width="1.00" height="1.00" fill="#0000ff" />
<rect x="883.60" y="117.00" width="1.00" height="1.00" fill="#0000ff" />
<rect x="885.60" y="115.60" width="1.00" height="1.00" fill="#0000ff" />
<rect x="886.60" y="114.20" width="1.00" height="1.00" fill="#0000ff" />
<rect x="878.00" y="126.00" width="9.00" height="9.00" fill="#808080" />
<rect x="879.00" y="127.00" width="7.00" height="7.00" fill="#fff" />
<rect x="880.00" y="130.00" width="5.00" height="1.00" fill="#000" />
<line x1="888.0" y1="130.5" x2="893.5" y2="130.5" stroke="#5a5a5a" stroke-width="1" stroke-dasharray="1 1"/>
<rect x="893.00" y="122.00" width="16.00" height="16.00" fill="#00ff00" />
<polygon points="893.00,138.00 893.00,132.50 903.00,122.00 909.00,122.00 909.00,125.00 901.50,138.00" fill="#c0c0c0" stroke="none" stroke-width="1.0" />
<line x1="893.30" y1="132.20" x2="903.30" y2="121.80" stroke="#e8e8e8" stroke-width="1.0" />
<line x1="894.30" y1="137.20" x2="906.20" y2="122.50" stroke="#000" stroke-width="1.5" />
<polygon points="893.00,122.00 899.60,122.00 897.60,124.60 894.40,124.60" fill="#008000" stroke="none" stroke-width="1.0" />
<rect x="895.30" y="124.60" width="1.80" height="4.00" fill="#800000" />
<text x="913.40" y="133.70" font-size="11" fill="#000" text-anchor="start" font-weight="400" textLength="52.20" lengthAdjust="spacingAndGlyphs" >Alignments</text>
<rect x="897.00" y="142.00" width="9.00" height="9.00" fill="#808080" />
<rect x="898.00" y="143.00" width="7.00" height="7.00" fill="#fff" />
<rect x="899.00" y="146.00" width="5.00" height="1.00" fill="#000" />
<rect x="901.00" y="144.00" width="1.00" height="5.00" fill="#000" />
<line x1="907.0" y1="146.5" x2="912.5" y2="146.5" stroke="#5a5a5a" stroke-width="1" stroke-dasharray="1 1"/>
<rect x="912.00" y="138.00" width="16.00" height="16.00" fill="#00ff00" />
<polygon points="912.00,154.00 912.00,148.50 922.00,138.00 928.00,138.00 928.00,141.00 920.50,154.00" fill="#c0c0c0" stroke="none" stroke-width="1.0" />
<line x1="912.30" y1="148.20" x2="922.30" y2="137.80" stroke="#e8e8e8" stroke-width="1.0" />
<line x1="913.30" y1="153.20" x2="925.20" y2="138.50" stroke="#ff0000" stroke-width="1.5" />
<polygon points="912.00,138.00 918.60,138.00 916.60,140.60 913.40,140.60" fill="#008000" stroke="none" stroke-width="1.0" />
<rect x="914.30" y="140.60" width="1.80" height="4.00" fill="#800000" />
<text x="932.40" y="149.70" font-size="11" fill="#000" text-anchor="start" font-weight="400" textLength="35.80" lengthAdjust="spacingAndGlyphs" >Dam CL</text>
<rect x="897.00" y="158.00" width="9.00" height="9.00" fill="#808080" />
<rect x="898.00" y="159.00" width="7.00" height="7.00" fill="#fff" />
<rect x="899.00" y="162.00" width="5.00" height="1.00" fill="#000" />
<line x1="907.0" y1="162.5" x2="912.5" y2="162.5" stroke="#5a5a5a" stroke-width="1" stroke-dasharray="1 1"/>
<rect x="912.00" y="154.00" width="16.00" height="16.00" fill="#00ff00" />
<polygon points="912.00,170.00 912.00,164.50 922.00,154.00 928.00,154.00 928.00,157.00 920.50,170.00" fill="#c0c0c0" stroke="none" stroke-width="1.0" />
<line x1="912.30" y1="164.20" x2="922.30" y2="153.80" stroke="#e8e8e8" stroke-width="1.0" />
<line x1="913.30" y1="169.20" x2="925.20" y2="154.50" stroke="#ff0000" stroke-width="1.5" />
<polygon points="912.00,154.00 918.60,154.00 916.60,156.60 913.40,156.60" fill="#008000" stroke="none" stroke-width="1.0" />
<rect x="914.30" y="156.60" width="1.80" height="4.00" fill="#800000" />
<text x="932.40" y="165.70" font-size="11" fill="#000" text-anchor="start" font-weight="400" textLength="58.80" lengthAdjust="spacingAndGlyphs" >Overflow CL</text>
<line x1="931.50" y1="174.00" x2="931.50" y2="184.00" stroke="#808080" stroke-width="1" />
<line x1="935.50" y1="174.00" x2="935.50" y2="184.00" stroke="#808080" stroke-width="1" />
<line x1="941.50" y1="174.00" x2="941.50" y2="184.00" stroke="#808080" stroke-width="1" />
<line x1="946.50" y1="174.00" x2="946.50" y2="184.00" stroke="#808080" stroke-width="1" />
<line x1="931.00" y1="180.50" x2="947.00" y2="180.50" stroke="#808080" stroke-width="1" />
<line x1="931.00" y1="183.50" x2="947.00" y2="183.50" stroke="#808080" stroke-width="1" />
<polyline points="931.50,174.50 933.00,173.00 935.50,172.50 938.00,174.00 941.50,176.50 944.00,174.50 946.50,173.50" fill="none" stroke="#ff0000" stroke-width="1.2" />
<text x="951.40" y="181.70" font-size="11" fill="#000" text-anchor="start" font-weight="400" textLength="82.80" lengthAdjust="spacingAndGlyphs" >Original Overflow</text>
<rect x="916.00" y="190.00" width="9.00" height="9.00" fill="#808080" />
<rect x="917.00" y="191.00" width="7.00" height="7.00" fill="#fff" />
<rect x="918.00" y="194.00" width="5.00" height="1.00" fill="#000" />
<line x1="926.0" y1="194.5" x2="931.5" y2="194.5" stroke="#5a5a5a" stroke-width="1" stroke-dasharray="1 1"/>
<line x1="931.50" y1="190.00" x2="931.50" y2="200.00" stroke="#808080" stroke-width="1" />
<line x1="935.50" y1="190.00" x2="935.50" y2="200.00" stroke="#808080" stroke-width="1" />
<line x1="941.50" y1="190.00" x2="941.50" y2="200.00" stroke="#808080" stroke-width="1" />
<line x1="946.50" y1="190.00" x2="946.50" y2="200.00" stroke="#808080" stroke-width="1" />
<line x1="931.00" y1="196.50" x2="947.00" y2="196.50" stroke="#808080" stroke-width="1" />
<line x1="931.00" y1="199.50" x2="947.00" y2="199.50" stroke="#808080" stroke-width="1" />
<polyline points="931.50,190.50 933.00,189.00 935.50,188.50 938.00,190.00 941.50,192.50 944.00,190.50 946.50,189.50" fill="none" stroke="#ff0000" stroke-width="1.2" />
<text x="951.40" y="197.70" font-size="11" fill="#000" text-anchor="start" font-weight="400" textLength="79.00" lengthAdjust="spacingAndGlyphs" >Overflow Design</text>
<polyline points="956.00,203.70 962.70,203.70 965.70,205.90" fill="none" stroke="#000" stroke-width="1.15" />
<line x1="959.90" y1="203.70" x2="951.80" y2="211.90" stroke="#000" stroke-width="1.15" />
<polyline points="954.30,207.50 961.30,207.50 965.00,211.30" fill="none" stroke="#000" stroke-width="1.15" />
<line x1="957.70" y1="204.00" x2="957.70" y2="213.30" stroke="#000" stroke-width="1.15" />
<polyline points="952.70,213.00 959.70,213.00 963.20,216.80" fill="none" stroke="#000" stroke-width="1.15" />
<line x1="954.40" y1="213.00" x2="950.20" y2="217.20" stroke="#000" stroke-width="1.15" />
<text x="970.40" y="213.70" font-size="11" fill="#000" text-anchor="start" font-weight="400" textLength="38.20" lengthAdjust="spacingAndGlyphs" >Spillway</text>
<line x1="931.50" y1="226.70" x2="931.50" y2="230.50" stroke="#7c7c7c" stroke-width="1" />
<line x1="934.50" y1="223.50" x2="934.50" y2="230.50" stroke="#7c7c7c" stroke-width="1" />
<line x1="938.50" y1="218.30" x2="938.50" y2="232.40" stroke="#7c7c7c" stroke-width="1" />
<line x1="942.50" y1="223.50" x2="942.50" y2="230.50" stroke="#7c7c7c" stroke-width="1" />
<line x1="946.50" y1="219.30" x2="946.50" y2="230.50" stroke="#7c7c7c" stroke-width="1" />
<line x1="931.00" y1="230.50" x2="947.00" y2="230.50" stroke="#7c7c7c" stroke-width="1" />
<polyline points="931.40,226.80 934.60,223.50 942.60,223.50 946.70,219.20" fill="none" stroke="#0000ff" stroke-width="1.25" />
<text x="951.40" y="229.70" font-size="11" fill="#000" text-anchor="start" font-weight="400" textLength="97.80" lengthAdjust="spacingAndGlyphs" >Original Overflow XS</text>
<line x1="931.50" y1="242.70" x2="931.50" y2="246.50" stroke="#7c7c7c" stroke-width="1" />
<line x1="934.50" y1="239.50" x2="934.50" y2="246.50" stroke="#7c7c7c" stroke-width="1" />
<line x1="938.50" y1="234.30" x2="938.50" y2="248.40" stroke="#7c7c7c" stroke-width="1" />
<line x1="942.50" y1="239.50" x2="942.50" y2="246.50" stroke="#7c7c7c" stroke-width="1" />
<line x1="946.50" y1="235.30" x2="946.50" y2="246.50" stroke="#7c7c7c" stroke-width="1" />
<line x1="931.00" y1="246.50" x2="947.00" y2="246.50" stroke="#7c7c7c" stroke-width="1" />
<polyline points="931.40,242.80 934.60,239.50 942.60,239.50 946.70,235.20" fill="none" stroke="#0000ff" stroke-width="1.25" />
<text x="951.40" y="245.70" font-size="11" fill="#000" text-anchor="start" font-weight="400" textLength="72.10" lengthAdjust="spacingAndGlyphs" >Spillway design</text>
<line x1="931.50" y1="258.70" x2="931.50" y2="262.50" stroke="#7c7c7c" stroke-width="1" />
<line x1="934.50" y1="255.50" x2="934.50" y2="262.50" stroke="#7c7c7c" stroke-width="1" />
<line x1="938.50" y1="250.30" x2="938.50" y2="264.40" stroke="#7c7c7c" stroke-width="1" />
<line x1="942.50" y1="255.50" x2="942.50" y2="262.50" stroke="#7c7c7c" stroke-width="1" />
<line x1="946.50" y1="251.30" x2="946.50" y2="262.50" stroke="#7c7c7c" stroke-width="1" />
<line x1="931.00" y1="262.50" x2="947.00" y2="262.50" stroke="#7c7c7c" stroke-width="1" />
<polyline points="931.40,258.80 934.60,255.50 942.60,255.50 946.70,251.20" fill="none" stroke="#0000ff" stroke-width="1.25" />
<text x="951.40" y="261.70" font-size="11" fill="#000" text-anchor="start" font-weight="400" textLength="58.30" lengthAdjust="spacingAndGlyphs" >Water Level</text>
<line x1="931.50" y1="274.70" x2="931.50" y2="278.50" stroke="#7c7c7c" stroke-width="1" />
<line x1="934.50" y1="271.50" x2="934.50" y2="278.50" stroke="#7c7c7c" stroke-width="1" />
<line x1="938.50" y1="266.30" x2="938.50" y2="280.40" stroke="#7c7c7c" stroke-width="1" />
<line x1="942.50" y1="271.50" x2="942.50" y2="278.50" stroke="#7c7c7c" stroke-width="1" />
<line x1="946.50" y1="267.30" x2="946.50" y2="278.50" stroke="#7c7c7c" stroke-width="1" />
<line x1="931.00" y1="278.50" x2="947.00" y2="278.50" stroke="#7c7c7c" stroke-width="1" />
<polyline points="931.40,274.80 934.60,271.50 942.60,271.50 946.70,267.20" fill="none" stroke="#0000ff" stroke-width="1.25" />
<text x="951.40" y="277.70" font-size="11" fill="#000" text-anchor="start" font-weight="400" textLength="54.80" lengthAdjust="spacingAndGlyphs" >Top of Dam</text>
</g>
<clipPath id="cT2"><rect x="1081.7" y="106" width="212.6" height="203.6"/></clipPath><g clip-path="url(#cT2)">
<line x1="1109.5" y1="122.0" x2="1109.5" y2="126.0" stroke="#5a5a5a" stroke-width="1" stroke-dasharray="1 1"/>
<line x1="1109.5" y1="136.0" x2="1109.5" y2="158.0" stroke="#5a5a5a" stroke-width="1" stroke-dasharray="1 1"/>
<line x1="1128.5" y1="138.0" x2="1128.5" y2="142.0" stroke="#5a5a5a" stroke-width="1" stroke-dasharray="1 1"/>
<line x1="1128.5" y1="170.0" x2="1128.5" y2="174.0" stroke="#5a5a5a" stroke-width="1" stroke-dasharray="1 1"/>
<line x1="1128.5" y1="184.0" x2="1128.5" y2="238.0" stroke="#5a5a5a" stroke-width="1" stroke-dasharray="1 1"/>
<line x1="1147.5" y1="186.0" x2="1147.5" y2="227.0" stroke="#5a5a5a" stroke-width="1" stroke-dasharray="1 1"/>
<line x1="1147.5" y1="250.0" x2="1147.5" y2="307.0" stroke="#5a5a5a" stroke-width="1" stroke-dasharray="1 1"/>
<line x1="1148.0" y1="194.5" x2="1157.0" y2="194.5" stroke="#5a5a5a" stroke-width="1" stroke-dasharray="1 1"/>
<line x1="1148.0" y1="210.5" x2="1157.0" y2="210.5" stroke="#5a5a5a" stroke-width="1" stroke-dasharray="1 1"/>
<line x1="1148.0" y1="226.5" x2="1157.0" y2="226.5" stroke="#5a5a5a" stroke-width="1" stroke-dasharray="1 1"/>
<line x1="1148.0" y1="258.5" x2="1157.0" y2="258.5" stroke="#5a5a5a" stroke-width="1" stroke-dasharray="1 1"/>
<line x1="1148.0" y1="274.5" x2="1157.0" y2="274.5" stroke="#5a5a5a" stroke-width="1" stroke-dasharray="1 1"/>
<line x1="1148.0" y1="290.5" x2="1157.0" y2="290.5" stroke="#5a5a5a" stroke-width="1" stroke-dasharray="1 1"/>
<line x1="1148.0" y1="306.5" x2="1157.0" y2="306.5" stroke="#5a5a5a" stroke-width="1" stroke-dasharray="1 1"/>
<rect x="1086.00" y="110.00" width="9.00" height="9.00" fill="#808080" />
<rect x="1087.00" y="111.00" width="7.00" height="7.00" fill="#fff" />
<rect x="1088.00" y="114.00" width="5.00" height="1.00" fill="#000" />
<line x1="1096.0" y1="114.5" x2="1101.5" y2="114.5" stroke="#5a5a5a" stroke-width="1" stroke-dasharray="1 1"/>
<rect x="1101.00" y="106.00" width="16.00" height="15.00" fill="#000" />
<rect x="1102.00" y="109.00" width="14.00" height="11.00" fill="#fff" />
<rect x="1102.20" y="107.00" width="2.00" height="1.00" fill="#ff0000" />
<rect x="1113.40" y="107.00" width="2.20" height="1.00" fill="#fff" />
<polygon points="1107.60,110.20 1109.20,110.20 1107.60,115.60 1112.80,115.60 1112.00,118.20 1103.80,118.20 1104.40,116.60 1105.60,116.00" fill="#ff0000" stroke="none" stroke-width="1.0" />
<rect x="1105.00" y="126.00" width="9.00" height="9.00" fill="#808080" />
<rect x="1106.00" y="127.00" width="7.00" height="7.00" fill="#fff" />
<rect x="1107.00" y="130.00" width="5.00" height="1.00" fill="#000" />
<line x1="1115.0" y1="130.5" x2="1120.5" y2="130.5" stroke="#5a5a5a" stroke-width="1" stroke-dasharray="1 1"/>
<rect x="1120.00" y="122.00" width="16.00" height="15.00" fill="#ff0000" />
<rect x="1121.00" y="125.00" width="14.00" height="11.00" fill="#fff" />
<rect x="1121.20" y="123.00" width="2.00" height="1.00" fill="#0000ff" />
<rect x="1132.40" y="123.00" width="2.20" height="1.00" fill="#fff" />
<polyline points="1122.50,126.50 1122.50,134.50 1134.00,134.50" fill="none" stroke="#000" stroke-width="1.1" />
<polyline points="1123.00,130.30 1126.00,127.20 1128.00,128.00 1131.00,131.60 1134.00,129.00" fill="none" stroke="#ff0000" stroke-width="1.1" />
<text x="1140.40" y="133.70" font-size="11" fill="#000" text-anchor="start" font-weight="400" textLength="66.30" lengthAdjust="spacingAndGlyphs" >Long Sections</text>
<rect x="1124.00" y="142.00" width="9.00" height="9.00" fill="#808080" />
<rect x="1125.00" y="143.00" width="7.00" height="7.00" fill="#fff" />
<rect x="1126.00" y="146.00" width="5.00" height="1.00" fill="#000" />
<rect x="1128.00" y="144.00" width="1.00" height="5.00" fill="#000" />
<line x1="1134.0" y1="146.5" x2="1139.5" y2="146.5" stroke="#5a5a5a" stroke-width="1" stroke-dasharray="1 1"/>
<rect x="1139.00" y="138.00" width="12.00" height="10.50" fill="#808080" />
<rect x="1140.00" y="141.00" width="10.00" height="6.50" fill="#fff" />
<rect x="1140.20" y="139.00" width="2.00" height="1.00" fill="#0000ff" />
<rect x="1147.40" y="139.00" width="2.20" height="1.00" fill="#fff" />
<rect x="1143.00" y="142.00" width="12.00" height="10.80" fill="#ff0000" />
<rect x="1144.00" y="145.00" width="10.00" height="6.80" fill="#fff" />
<rect x="1144.20" y="143.00" width="2.00" height="1.00" fill="#0000ff" />
<rect x="1151.40" y="143.00" width="2.20" height="1.00" fill="#fff" />
<polyline points="1145.50,146.00 1145.50,150.50 1153.00,150.50" fill="none" stroke="#000" stroke-width="1.1" />
<polyline points="1146.00,148.50 1148.00,147.00 1150.00,148.20 1153.00,147.00" fill="none" stroke="#ff0000" stroke-width="1.0" />
<text x="1159.40" y="149.70" font-size="11" fill="#000" text-anchor="start" font-weight="400" textLength="85.80" lengthAdjust="spacingAndGlyphs" >Long Section View</text>
<rect x="1105.00" y="158.00" width="9.00" height="9.00" fill="#808080" />
<rect x="1106.00" y="159.00" width="7.00" height="7.00" fill="#fff" />
<rect x="1107.00" y="162.00" width="5.00" height="1.00" fill="#000" />
<line x1="1115.0" y1="162.5" x2="1120.5" y2="162.5" stroke="#5a5a5a" stroke-width="1" stroke-dasharray="1 1"/>
<rect x="1120.00" y="154.00" width="16.00" height="15.00" fill="#0000ff" />
<rect x="1121.00" y="157.00" width="14.00" height="11.00" fill="#fff" />
<rect x="1121.20" y="155.00" width="2.00" height="1.00" fill="#ff0000" />
<rect x="1132.40" y="155.00" width="2.20" height="1.00" fill="#fff" />
<line x1="1128.50" y1="158.00" x2="1128.50" y2="167.00" stroke="#000" stroke-width="1.2" />
<line x1="1124.00" y1="162.50" x2="1133.00" y2="162.50" stroke="#000" stroke-width="1.1" />
<polyline points="1122.00,165.20 1125.60,161.60 1130.80,161.60 1134.00,158.40" fill="none" stroke="#0000ff" stroke-width="1.1" />
<text x="1140.40" y="165.70" font-size="11" fill="#000" text-anchor="start" font-weight="400" textLength="70.00" lengthAdjust="spacingAndGlyphs" >Cross Sections</text>
<rect x="1124.00" y="174.00" width="9.00" height="9.00" fill="#808080" />
<rect x="1125.00" y="175.00" width="7.00" height="7.00" fill="#fff" />
<rect x="1126.00" y="178.00" width="5.00" height="1.00" fill="#000" />
<line x1="1134.0" y1="178.5" x2="1139.5" y2="178.5" stroke="#5a5a5a" stroke-width="1" stroke-dasharray="1 1"/>
<rect x="1139.00" y="170.00" width="12.00" height="10.50" fill="#808080" />
<rect x="1140.00" y="173.00" width="10.00" height="6.50" fill="#fff" />
<rect x="1140.20" y="171.00" width="2.00" height="1.00" fill="#ff0000" />
<rect x="1147.40" y="171.00" width="2.20" height="1.00" fill="#fff" />
<rect x="1143.00" y="174.00" width="12.00" height="10.80" fill="#0000ff" />
<rect x="1144.00" y="177.00" width="10.00" height="6.80" fill="#fff" />
<rect x="1144.20" y="175.00" width="2.00" height="1.00" fill="#ff0000" />
<rect x="1151.40" y="175.00" width="2.20" height="1.00" fill="#fff" />
<line x1="1148.50" y1="178.00" x2="1148.50" y2="183.50" stroke="#000" stroke-width="1.2" />
<line x1="1146.00" y1="180.50" x2="1152.00" y2="180.50" stroke="#000" stroke-width="1.1" />
<polyline points="1145.20,182.00 1148.00,179.60 1150.00,179.60 1152.60,177.60" fill="none" stroke="#0000ff" stroke-width="1.0" />
<text x="1159.40" y="181.70" font-size="11" fill="#000" text-anchor="start" font-weight="400" textLength="99.10" lengthAdjust="spacingAndGlyphs" >Cross Section View:1</text>
<line x1="1158.50" y1="194.70" x2="1158.50" y2="198.50" stroke="#7c7c7c" stroke-width="1" />
<line x1="1161.50" y1="191.50" x2="1161.50" y2="198.50" stroke="#7c7c7c" stroke-width="1" />
<line x1="1165.50" y1="186.30" x2="1165.50" y2="200.40" stroke="#7c7c7c" stroke-width="1" />
<line x1="1169.50" y1="191.50" x2="1169.50" y2="198.50" stroke="#7c7c7c" stroke-width="1" />
<line x1="1173.50" y1="187.30" x2="1173.50" y2="198.50" stroke="#7c7c7c" stroke-width="1" />
<line x1="1158.00" y1="198.50" x2="1174.00" y2="198.50" stroke="#7c7c7c" stroke-width="1" />
<polyline points="1158.40,194.80 1161.60,191.50 1169.60,191.50 1173.70,187.20" fill="none" stroke="#0000ff" stroke-width="1.25" />
<text x="1178.40" y="197.70" font-size="11" fill="#000" text-anchor="start" font-weight="400" textLength="50.80" lengthAdjust="spacingAndGlyphs" >Original XS</text>
<line x1="1158.50" y1="210.70" x2="1158.50" y2="214.50" stroke="#7c7c7c" stroke-width="1" />
<line x1="1161.50" y1="207.50" x2="1161.50" y2="214.50" stroke="#7c7c7c" stroke-width="1" />
<line x1="1165.50" y1="202.30" x2="1165.50" y2="216.40" stroke="#7c7c7c" stroke-width="1" />
<line x1="1169.50" y1="207.50" x2="1169.50" y2="214.50" stroke="#7c7c7c" stroke-width="1" />
<line x1="1173.50" y1="203.30" x2="1173.50" y2="214.50" stroke="#7c7c7c" stroke-width="1" />
<line x1="1158.00" y1="214.50" x2="1174.00" y2="214.50" stroke="#7c7c7c" stroke-width="1" />
<polyline points="1158.40,210.80 1161.60,207.50 1169.60,207.50 1173.70,203.20" fill="none" stroke="#0000ff" stroke-width="1.25" />
<text x="1178.40" y="213.70" font-size="11" fill="#000" text-anchor="start" font-weight="400" textLength="54.60" lengthAdjust="spacingAndGlyphs" >Wall Design</text>
<line x1="1158.50" y1="226.70" x2="1158.50" y2="230.50" stroke="#7c7c7c" stroke-width="1" />
<line x1="1161.50" y1="223.50" x2="1161.50" y2="230.50" stroke="#7c7c7c" stroke-width="1" />
<line x1="1165.50" y1="218.30" x2="1165.50" y2="232.40" stroke="#7c7c7c" stroke-width="1" />
<line x1="1169.50" y1="223.50" x2="1169.50" y2="230.50" stroke="#7c7c7c" stroke-width="1" />
<line x1="1173.50" y1="219.30" x2="1173.50" y2="230.50" stroke="#7c7c7c" stroke-width="1" />
<line x1="1158.00" y1="230.50" x2="1174.00" y2="230.50" stroke="#7c7c7c" stroke-width="1" />
<polyline points="1158.40,226.80 1161.60,223.50 1169.60,223.50 1173.70,219.20" fill="none" stroke="#0000ff" stroke-width="1.25" />
<text x="1178.40" y="229.70" font-size="11" fill="#000" text-anchor="start" font-weight="400" textLength="28.60" lengthAdjust="spacingAndGlyphs" >Wall 2</text>
<rect x="1124.00" y="238.00" width="9.00" height="9.00" fill="#808080" />
<rect x="1125.00" y="239.00" width="7.00" height="7.00" fill="#fff" />
<rect x="1126.00" y="242.00" width="5.00" height="1.00" fill="#000" />
<line x1="1134.0" y1="242.5" x2="1139.5" y2="242.5" stroke="#5a5a5a" stroke-width="1" stroke-dasharray="1 1"/>
<rect x="1139.00" y="234.00" width="12.00" height="10.50" fill="#808080" />
<rect x="1140.00" y="237.00" width="10.00" height="6.50" fill="#fff" />
<rect x="1140.20" y="235.00" width="2.00" height="1.00" fill="#ff0000" />
<rect x="1147.40" y="235.00" width="2.20" height="1.00" fill="#fff" />
<rect x="1143.00" y="238.00" width="12.00" height="10.80" fill="#0000ff" />
<rect x="1144.00" y="241.00" width="10.00" height="6.80" fill="#fff" />
<rect x="1144.20" y="239.00" width="2.00" height="1.00" fill="#ff0000" />
<rect x="1151.40" y="239.00" width="2.20" height="1.00" fill="#fff" />
<line x1="1148.50" y1="242.00" x2="1148.50" y2="247.50" stroke="#000" stroke-width="1.2" />
<line x1="1146.00" y1="244.50" x2="1152.00" y2="244.50" stroke="#000" stroke-width="1.1" />
<polyline points="1145.20,246.00 1148.00,243.60 1150.00,243.60 1152.60,241.60" fill="none" stroke="#0000ff" stroke-width="1.0" />
<text x="1159.40" y="245.70" font-size="11" fill="#000" text-anchor="start" font-weight="400" textLength="100.00" lengthAdjust="spacingAndGlyphs" >Cross Section View:2</text>
<line x1="1158.50" y1="258.70" x2="1158.50" y2="262.50" stroke="#7c7c7c" stroke-width="1" />
<line x1="1161.50" y1="255.50" x2="1161.50" y2="262.50" stroke="#7c7c7c" stroke-width="1" />
<line x1="1165.50" y1="250.30" x2="1165.50" y2="264.40" stroke="#7c7c7c" stroke-width="1" />
<line x1="1169.50" y1="255.50" x2="1169.50" y2="262.50" stroke="#7c7c7c" stroke-width="1" />
<line x1="1173.50" y1="251.30" x2="1173.50" y2="262.50" stroke="#7c7c7c" stroke-width="1" />
<line x1="1158.00" y1="262.50" x2="1174.00" y2="262.50" stroke="#7c7c7c" stroke-width="1" />
<polyline points="1158.40,258.80 1161.60,255.50 1169.60,255.50 1173.70,251.20" fill="none" stroke="#0000ff" stroke-width="1.25" />
<text x="1178.40" y="261.70" font-size="11" fill="#000" text-anchor="start" font-weight="400" textLength="54.60" lengthAdjust="spacingAndGlyphs" >Top of Dam</text>
<line x1="1158.50" y1="274.70" x2="1158.50" y2="278.50" stroke="#7c7c7c" stroke-width="1" />
<line x1="1161.50" y1="271.50" x2="1161.50" y2="278.50" stroke="#7c7c7c" stroke-width="1" />
<line x1="1165.50" y1="266.30" x2="1165.50" y2="280.40" stroke="#7c7c7c" stroke-width="1" />
<line x1="1169.50" y1="271.50" x2="1169.50" y2="278.50" stroke="#7c7c7c" stroke-width="1" />
<line x1="1173.50" y1="267.30" x2="1173.50" y2="278.50" stroke="#7c7c7c" stroke-width="1" />
<line x1="1158.00" y1="278.50" x2="1174.00" y2="278.50" stroke="#7c7c7c" stroke-width="1" />
<polyline points="1158.40,274.80 1161.60,271.50 1169.60,271.50 1173.70,267.20" fill="none" stroke="#0000ff" stroke-width="1.25" />
<text x="1178.40" y="277.70" font-size="11" fill="#000" text-anchor="start" font-weight="400" textLength="57.90" lengthAdjust="spacingAndGlyphs" >Water Level</text>
<line x1="1158.50" y1="290.70" x2="1158.50" y2="294.50" stroke="#7c7c7c" stroke-width="1" />
<line x1="1161.50" y1="287.50" x2="1161.50" y2="294.50" stroke="#7c7c7c" stroke-width="1" />
<line x1="1165.50" y1="282.30" x2="1165.50" y2="296.40" stroke="#7c7c7c" stroke-width="1" />
<line x1="1169.50" y1="287.50" x2="1169.50" y2="294.50" stroke="#7c7c7c" stroke-width="1" />
<line x1="1173.50" y1="283.30" x2="1173.50" y2="294.50" stroke="#7c7c7c" stroke-width="1" />
<line x1="1158.00" y1="294.50" x2="1174.00" y2="294.50" stroke="#7c7c7c" stroke-width="1" />
<polyline points="1158.40,290.80 1161.60,287.50 1169.60,287.50 1173.70,283.20" fill="none" stroke="#0000ff" stroke-width="1.25" />
<text x="1178.40" y="293.70" font-size="11" fill="#000" text-anchor="start" font-weight="400" textLength="97.90" lengthAdjust="spacingAndGlyphs" >Original Overflow XS</text>
<line x1="1158.50" y1="306.70" x2="1158.50" y2="310.50" stroke="#7c7c7c" stroke-width="1" />
<line x1="1161.50" y1="303.50" x2="1161.50" y2="310.50" stroke="#7c7c7c" stroke-width="1" />
<line x1="1165.50" y1="298.30" x2="1165.50" y2="312.40" stroke="#7c7c7c" stroke-width="1" />
<line x1="1169.50" y1="303.50" x2="1169.50" y2="310.50" stroke="#7c7c7c" stroke-width="1" />
<line x1="1173.50" y1="299.30" x2="1173.50" y2="310.50" stroke="#7c7c7c" stroke-width="1" />
<line x1="1158.00" y1="310.50" x2="1174.00" y2="310.50" stroke="#7c7c7c" stroke-width="1" />
<polyline points="1158.40,306.80 1161.60,303.50 1169.60,303.50 1173.70,299.20" fill="none" stroke="#0000ff" stroke-width="1.25" />
<text x="1178.40" y="309.70" font-size="11" fill="#000" text-anchor="start" font-weight="400" textLength="71.60" lengthAdjust="spacingAndGlyphs" >Spillway design</text>
</g>
<rect x="1294.30" y="106.00" width="16.00" height="203.70" fill="url(#dither)" />
<rect x="1294.30" y="106.00" width="16.00" height="15.00" fill="#202020" />
<rect x="1294.30" y="106.00" width="14.80" height="13.80" fill="#d4d0c8" />
<rect x="1295.30" y="107.00" width="13.80" height="12.80" fill="#808080" />
<rect x="1295.30" y="107.00" width="12.80" height="11.80" fill="#fff" />
<rect x="1296.30" y="108.00" width="11.80" height="10.80" fill="#d4d0c8" />
<polygon points="1298.30,116.20 1305.30,116.20 1301.80,112.20" fill="#000" stroke="none" stroke-width="1.0" />
<rect x="1294.30" y="121.00" width="16.00" height="157.40" fill="#202020" />
<rect x="1294.30" y="121.00" width="14.80" height="156.20" fill="#d4d0c8" />
<rect x="1295.30" y="122.00" width="13.80" height="155.20" fill="#808080" />
<rect x="1295.30" y="122.00" width="12.80" height="154.20" fill="#fff" />
<rect x="1296.30" y="123.00" width="11.80" height="153.20" fill="#d4d0c8" />
<rect x="1294.30" y="295.00" width="16.00" height="14.60" fill="#202020" />
<rect x="1294.30" y="295.00" width="14.80" height="13.40" fill="#d4d0c8" />
<rect x="1295.30" y="296.00" width="13.80" height="12.40" fill="#808080" />
<rect x="1295.30" y="296.00" width="12.80" height="11.40" fill="#fff" />
<rect x="1296.30" y="297.00" width="11.80" height="10.40" fill="#d4d0c8" />
<polygon points="1298.30,300.40 1305.30,300.40 1301.80,304.40" fill="#000" stroke="none" stroke-width="1.0" />
<polygon points="857.60,47.80 860.80,47.80 861.40,59.00 854.00,59.00 854.00,57.30" fill="#ff0000" stroke="none" stroke-width="1.0" />
<polygon points="860.00,43.00 863.20,43.00 862.20,46.60 860.60,48.00" fill="#ff0000" stroke="none" stroke-width="1.0" />
<polygon points="867.40,55.00 869.60,55.00 869.00,59.00 866.80,59.00" fill="#ff0000" stroke="none" stroke-width="1.0" />
<rect x="862.40" y="43.60" width="0.90" height="0.90" fill="#000" />
<rect x="861.60" y="45.40" width="0.90" height="0.90" fill="#000" />
<rect x="868.40" y="55.40" width="0.90" height="0.90" fill="#000" />
<rect x="867.40" y="57.60" width="0.90" height="0.90" fill="#000" />
<rect x="855.20" y="54.00" width="0.90" height="0.90" fill="#000" />
<rect x="854.40" y="56.40" width="0.90" height="0.90" fill="#000" />
<rect x="856.20" y="51.60" width="0.90" height="0.90" fill="#000" />
<line x1="858.60" y1="48.00" x2="858.60" y2="57.00" stroke="#2020ff" stroke-width="1.2" />
<line x1="858.60" y1="51.60" x2="861.60" y2="51.60" stroke="#2020ff" stroke-width="1.1" />
<line x1="858.60" y1="56.60" x2="861.60" y2="56.60" stroke="#2020ff" stroke-width="1.1" />
<line x1="858.00" y1="48.40" x2="861.00" y2="48.40" stroke="#000" stroke-width="1" />
<rect x="854.90" y="43.30" width="6.50" height="4.40" fill="#1a1a00" />
<rect x="855.60" y="44.00" width="5.10" height="3.00" fill="#ffff00" />
<rect x="861.00" y="49.00" width="6.40" height="4.10" fill="#1a1a00" />
<rect x="861.70" y="49.70" width="5.00" height="2.70" fill="#ffff00" />
<rect x="861.00" y="54.50" width="6.40" height="4.20" fill="#1a1a00" />
<rect x="861.70" y="55.20" width="5.00" height="2.80" fill="#ffff00" />
</g>
</svg>
</body></html>
